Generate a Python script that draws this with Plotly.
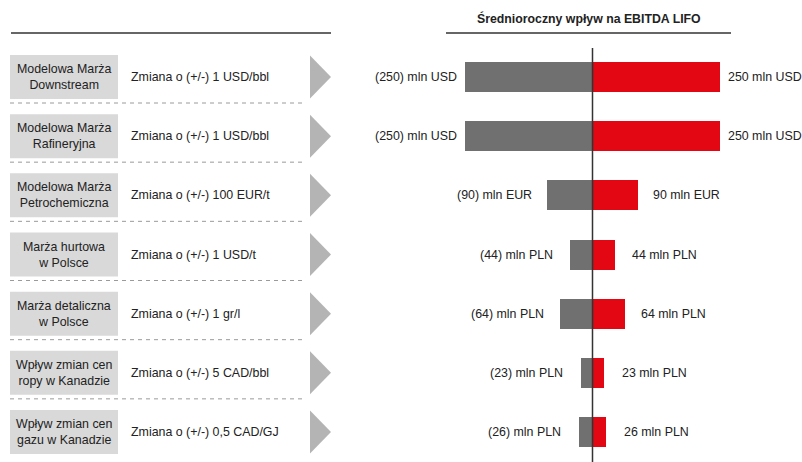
import plotly.graph_objects as go

# Sensitivity rows: driver name, change scenario, average annual EBITDA LIFO impact
drivers = [
    "Modelowa Marża<br>Downstream",
    "Modelowa Marża<br>Rafineryjna",
    "Modelowa Marża<br>Petrochemiczna",
    "Marża hurtowa<br>w Polsce",
    "Marża detaliczna<br>w Polsce",
    "Wpływ zmian cen<br>ropy w Kanadzie",
    "Wpływ zmian cen<br>gazu w Kanadzie",
]
scenarios = [
    "Zmiana o (+/-) 1 USD/bbl",
    "Zmiana o (+/-) 1 USD/bbl",
    "Zmiana o (+/-) 100 EUR/t",
    "Zmiana o (+/-) 1 USD/t",
    "Zmiana o (+/-) 1 gr/l",
    "Zmiana o (+/-) 5 CAD/bbl",
    "Zmiana o (+/-) 0,5 CAD/GJ",
]
impact = [250, 250, 90, 44, 64, 23, 26]
units = ["USD", "USD", "EUR", "PLN", "PLN", "PLN", "PLN"]
title_text = "Średnioroczny wpływ na EBITDA LIFO"

W, H = 802, 462
FONT = "Liberation Sans, Arial, sans-serif"
TXT = "#222222"
GRAY_BAR = "#707070"
RED_BAR = "#e30613"
BOX = "#d9d9d9"
ARROW = "#b4b4b4"

# axis geometry: zero line at x=592.5px, 0.51 px per unit; rows 59.17px apart starting at 77px
zero_px, px_per_unit = 592.5, 0.51
x_range = [-zero_px / px_per_unit, (W - zero_px) / px_per_unit]
row0_px, row_px = 77.0, 59.17
y_range = [(H - row0_px) / row_px, -row0_px / row_px]

rows = list(range(len(impact)))


def px(x):
    return x / W


fig = go.Figure()
fig.add_trace(go.Bar(
    y=rows, x=[-v for v in impact], orientation="h",
    marker=dict(color=GRAY_BAR, line=dict(width=0)),
    width=30 / row_px, hoverinfo="skip", showlegend=False,
))
fig.add_trace(go.Bar(
    y=rows, x=impact, orientation="h",
    marker=dict(color=RED_BAR, line=dict(width=0)),
    width=30 / row_px, hoverinfo="skip", showlegend=False,
))

shapes = []
annotations = []

# header rules
shapes.append(dict(type="line", xref="paper", yref="paper",
                   x0=px(11), x1=px(331), y0=1 - 33 / H, y1=1 - 33 / H,
                   line=dict(color="#333333", width=1.6)))
shapes.append(dict(type="line", xref="paper", yref="paper",
                   x0=px(446), x1=px(731), y0=1 - 33 / H, y1=1 - 33 / H,
                   line=dict(color="#333333", width=1.6)))
annotations.append(dict(text="<b>" + title_text + "</b>", xref="paper", yref="paper",
                        x=px(589), y=1 - 19 / H, xanchor="center", yanchor="middle",
                        showarrow=False, font=dict(family=FONT, size=12.3, color=TXT)))

# zero line
shapes.append(dict(type="line", xref="x", yref="paper", x0=0, x1=0,
                   y0=0, y1=1 - 48 / H, line=dict(color="#333333", width=1.5), layer="above"))

box_half = 22 / row_px
arrow_half = 21.5 / row_px
for i in rows:
    shapes.append(dict(type="rect", xref="paper", yref="y",
                       x0=px(10), x1=px(118), y0=i - box_half, y1=i + box_half,
                       fillcolor=BOX, line=dict(width=0), layer="below"))
    shapes.append(dict(type="path", xref="paper", yref="y",
                       path=f"M {px(310)} {i - arrow_half} L {px(331)} {i} L {px(310)} {i + arrow_half} Z",
                       fillcolor=ARROW, line=dict(width=0)))
    if i < len(rows) - 1:
        yd = i + 26 / row_px
        shapes.append(dict(type="line", xref="paper", yref="y",
                           x0=px(10), x1=px(303), y0=yd, y1=yd,
                           line=dict(color="#9a9a9a", width=1, dash="4px,4px")))
    annotations.append(dict(text=drivers[i], xref="paper", yref="y", x=px(64), y=i,
                            xanchor="center", yanchor="middle", align="center",
                            showarrow=False, font=dict(family=FONT, size=12.4, color=TXT)))
    annotations.append(dict(text=scenarios[i], xref="paper", yref="y", x=px(129), y=i,
                            xanchor="left", yanchor="middle",
                            showarrow=False, font=dict(family=FONT, size=12.4, color=TXT)))

    v = impact[i]
    gap = 6 + 11 * (1 - v / max(impact))
    annotations.append(dict(text=f"({v}) mln {units[i]}", xref="x", yref="y", x=-v, y=i,
                            xanchor="right", yanchor="middle", xshift=-gap,
                            showarrow=False, font=dict(family=FONT, size=12.4, color=TXT)))
    annotations.append(dict(text=f"{v} mln {units[i]}", xref="x", yref="y", x=v, y=i,
                            xanchor="left", yanchor="middle", xshift=gap,
                            showarrow=False, font=dict(family=FONT, size=12.4, color=TXT)))

fig.update_layout(
    width=W, height=H,
    margin=dict(l=0, r=0, t=0, b=0),
    paper_bgcolor="white", plot_bgcolor="white",
    barmode="overlay", bargap=0,
    xaxis=dict(range=x_range, visible=False, fixedrange=True),
    yaxis=dict(range=y_range, visible=False, fixedrange=True),
    shapes=shapes, annotations=annotations,
    showlegend=False,
)

fig.write_html("out.html", config={"displayModeBar": False})
